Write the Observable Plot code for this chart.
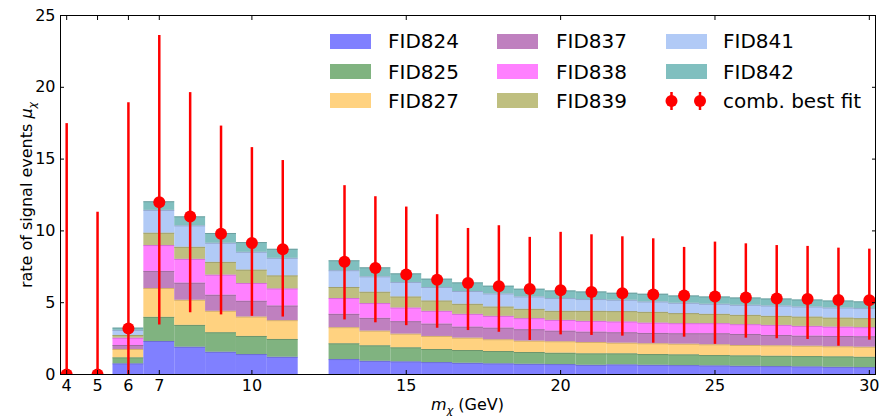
<!DOCTYPE html>
<html><head><meta charset="utf-8">
<script src="https://cdn.jsdelivr.net/npm/d3@7"></script>
<script src="https://cdn.jsdelivr.net/npm/@observablehq/plot@0.6"></script>
<style>
body{margin:0;background:#fff;}
#wrap{position:relative;width:880px;height:420px;font-family:"DejaVu Sans",sans-serif;color:#000;}
.sw{position:absolute;width:41px;height:15px;}
.lt{position:absolute;font-size:20px;line-height:24px;height:24px;white-space:nowrap;}
</style></head><body><div id="wrap"></div>
<script>
// ---- data ----
const masses = [6,7,8,9,10,11,13,14,15,16,17,18,19,20,21,22,23,24,25,26,27,28,29,30];
const FID824 = [0.74,2.30,1.90,1.55,1.39,1.20,1.04,0.92,0.88,0.83,0.78,0.74,0.71,0.69,0.64,0.67,0.64,0.62,0.60,0.57,0.55,0.53,0.50,0.48];
const FID825 = [0.42,1.68,1.52,1.36,1.26,1.24,1.10,1.08,0.98,0.91,0.89,0.86,0.82,0.79,0.80,0.77,0.75,0.75,0.72,0.73,0.72,0.72,0.73,0.72];
const FID827 = [0.58,2.01,1.75,1.49,1.35,1.31,1.12,1.02,0.95,0.91,0.86,0.82,0.79,0.80,0.79,0.74,0.75,0.74,0.75,0.72,0.73,0.72,0.70,0.70];
const FID837 = [0.28,1.19,1.19,1.12,1.10,1.02,0.93,0.89,0.87,0.86,0.77,0.81,0.80,0.74,0.72,0.73,0.72,0.73,0.77,0.77,0.72,0.70,0.72,0.73];
const FID838 = [0.51,1.80,1.66,1.40,1.24,1.19,1.10,1.03,0.95,0.89,0.89,0.82,0.77,0.75,0.75,0.75,0.72,0.70,0.70,0.68,0.70,0.68,0.65,0.63];
const FID839 = [0.19,0.86,0.84,0.89,0.93,0.91,0.77,0.79,0.77,0.72,0.70,0.65,0.65,0.63,0.70,0.72,0.75,0.70,0.65,0.65,0.63,0.65,0.63,0.63];
const FID841 = [0.35,1.59,1.49,1.33,1.24,1.22,1.17,1.07,1.01,0.94,0.89,0.91,0.86,0.89,0.82,0.79,0.72,0.72,0.70,0.70,0.72,0.70,0.70,0.70];
const FID842 = [0.16,0.60,0.63,0.68,0.68,0.63,0.69,0.63,0.60,0.58,0.60,0.54,0.54,0.53,0.53,0.49,0.54,0.51,0.51,0.51,0.49,0.49,0.49,0.47];
const seriesNames = ["FID824","FID825","FID827","FID837","FID838","FID839","FID841","FID842"];
const seriesColors = ["#8080ff","#80b380","#ffd280","#bf80bf","#ff80ff","#bfbf80","#b1caf6","#80bfbf"];

const fitMass = [4,5,6,7,8,9,10,11,13,14,15,16,17,18,19,20,21,22,23,24,25,26,27,28,29,30];
const fitValue = [0,0,3.2,12.0,11.0,9.8,9.15,8.72,7.85,7.42,6.97,6.6,6.38,6.15,5.95,5.86,5.75,5.66,5.57,5.5,5.43,5.36,5.29,5.26,5.19,5.17];
const fitLow = [0,0,0,3.45,4.3,4.15,4.05,4.0,3.8,3.6,3.4,3.22,3.06,2.94,2.37,2.76,2.72,2.67,2.18,2.6,2.1,2.53,2.49,2.44,1.97,2.39];
const fitHigh = [17.47,11.3,18.93,23.6,19.63,17.3,15.8,14.9,13.15,12.38,11.66,11.13,10.17,10.36,9.55,9.9,9.73,9.59,9.45,8.85,9.22,9.1,8.98,8.92,8.8,8.73];

const xTicks = [4,5,6,7,10,15,20,25,30];
const yTicks = [0,5,10,15,20,25];

// ---- build tables ----
const layers = [FID824,FID825,FID827,FID837,FID838,FID839,FID841,FID842];
const stacked = [];
masses.forEach((m, i) => {
  let base = 0;
  layers.forEach((arr, k) => {
    const top = base + arr[i];
    stacked.push({x1: m - 0.5, x2: m + 0.5, y1: base, y2: top,
      fill: seriesColors[k], edge: d3.color(seriesColors[k]).darker(0.9).formatHex()});
    base = top;
  });
});
const fit = fitMass.map((m, i) => ({m, v: fitValue[i], lo: fitLow[i], hi: fitHigh[i]}));

const svg = Plot.plot({
  width: 880, height: 420,
  marginLeft: 60, marginRight: 5, marginTop: 15, marginBottom: 46,
  style: {fontFamily: '"DejaVu Sans", sans-serif', fontSize: "16px", color: "black", background: "white", overflow: "visible"},
  x: {domain: [3.8, 30.2]},
  y: {domain: [0, 25]},
  color: {type: "identity"},
  marks: [
    Plot.rect(stacked, {x1: "x1", x2: "x2", y1: "y1", y2: "y2", fill: "fill", clip: true}),
    Plot.ruleY(stacked, {x1: "x1", x2: "x2", y: "y2", stroke: "edge", strokeWidth: 1, strokeOpacity: 0.6, clip: true}),
    Plot.ruleX(fit, {x: "m", y1: "lo", y2: "hi", stroke: "red", strokeWidth: 2.5, clip: true}),
    Plot.dot(fit, {x: "m", y: "v", r: 6, fill: "red", clip: true}),
    Plot.frame({stroke: "black"}),
    Plot.axisX(xTicks, {anchor: "bottom", tickSize: -4, tickPadding: 9, label: null}),
    Plot.axisX(xTicks, {anchor: "top", tickSize: -4, tickFormat: () => "", label: null}),
    Plot.axisY(yTicks, {anchor: "left", tickSize: -4, tickPadding: 9, label: null}),
    Plot.axisY(yTicks, {anchor: "right", tickSize: -4, tickFormat: () => "", label: null})
  ]
});

const s = d3.select(svg);
// x label
const xl = s.append("text").attr("x", 467.5).attr("y", 410).attr("text-anchor", "middle")
  .attr("font-size", 16).attr("fill", "black");
xl.append("tspan").attr("font-style", "italic").text("m");
xl.append("tspan").attr("font-style", "italic").attr("font-size", 11).attr("dy", 4).text("χ");
xl.append("tspan").attr("dy", -4).text(" (GeV)");
// y label
const yl = s.append("text").attr("transform", "translate(32,195) rotate(-90)").attr("text-anchor", "middle")
  .attr("font-size", 16).attr("fill", "black");
yl.append("tspan").text("rate of signal events ");
yl.append("tspan").attr("font-style", "italic").text("μ");
yl.append("tspan").attr("font-style", "italic").attr("font-size", 11).attr("dy", 4).text("χ");

const wrap = document.getElementById("wrap");
wrap.appendChild(svg);

// legend
const rowsY = [41.3, 71.5, 100.5];
const colSw = [330, 497, 666];
const colTx = [388, 556, 723];
const legendItems = seriesNames.map((n, i) => ({name: n, color: seriesColors[i]}));
legendItems.push({name: "comb. best fit", fit: true});
legendItems.forEach((it, i) => {
  const col = Math.floor(i / 3), row = i % 3;
  const cy = rowsY[row];
  if (it.fit) {
    const ns = "http://www.w3.org/2000/svg";
    const m = document.createElementNS(ns, "svg");
    m.setAttribute("width", 50); m.setAttribute("height", 30);
    m.style.position = "absolute"; m.style.left = "660px"; m.style.top = (cy - 15) + "px";
    [11.5, 40].forEach(px => {
      const l = document.createElementNS(ns, "line");
      l.setAttribute("x1", px); l.setAttribute("x2", px); l.setAttribute("y1", 6); l.setAttribute("y2", 24);
      l.setAttribute("stroke", "red"); l.setAttribute("stroke-width", 2.5);
      m.appendChild(l);
      const c = document.createElementNS(ns, "circle");
      c.setAttribute("cx", px); c.setAttribute("cy", 15); c.setAttribute("r", 6); c.setAttribute("fill", "red");
      m.appendChild(c);
    });
    wrap.appendChild(m);
  } else {
    const sw = document.createElement("div");
    sw.className = "sw"; sw.style.left = colSw[col] + "px"; sw.style.top = (cy - 7.5) + "px";
    sw.style.background = it.color;
    wrap.appendChild(sw);
  }
  const t = document.createElement("div");
  t.className = "lt"; t.style.left = colTx[col] + "px"; t.style.top = (cy - 12) + "px";
  t.textContent = it.name;
  wrap.appendChild(t);
});
</script></body></html>
